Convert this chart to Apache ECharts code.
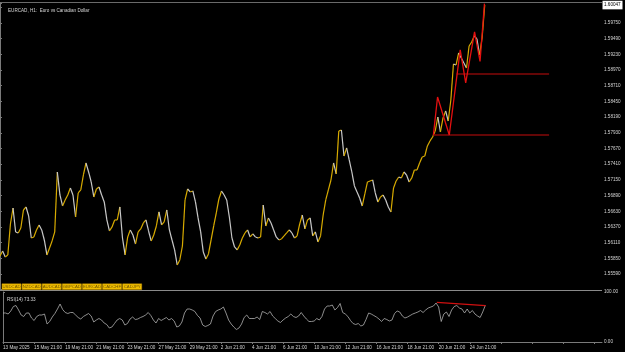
<!DOCTYPE html>
<html>
<head>
<meta charset="utf-8">
<script src="https://cdn.jsdelivr.net/npm/echarts@6/dist/echarts.min.js"></script>
<style>
html,body{margin:0;padding:0;background:#000;}
#c{width:625px;height:352px;}
</style>
</head>
<body>
<div id="c"></div>
<script>
// ---- data (H1 EURCAD, sampled every 4 bars) ----
const closes = [
1.55889,1.55972,1.55873,1.55906,1.56419,1.56684,1.56287,1.56270,1.56353,1.56651,
1.56701,1.56552,1.56187,1.56204,1.56320,1.56403,1.56320,1.56154,1.55906,1.56022,
1.56138,1.56287,1.57281,1.56900,1.56718,1.56817,1.56900,1.57016,1.56900,1.56535,
1.56933,1.56983,1.57231,1.57430,1.57281,1.57115,1.56867,1.56999,1.57032,1.56900,
1.56784,1.56486,1.56303,1.56370,1.56486,1.56486,1.56701,1.56187,1.55906,1.56204,
1.56320,1.56237,1.56088,1.56287,1.56337,1.56436,1.56486,1.56303,1.56138,1.56237,
1.56386,1.56618,1.56403,1.56453,1.56651,1.56320,1.56154,1.55989,1.55740,1.55823,
1.56055,1.56817,1.56999,1.56950,1.56966,1.56784,1.56519,1.56287,1.55955,1.55839,
1.55922,1.56154,1.56386,1.56602,1.56834,1.56966,1.56900,1.56817,1.56535,1.56187,
1.56038,1.55989,1.56071,1.56187,1.56270,1.56320,1.56204,1.56254,1.56204,1.56187,
1.56204,1.56734,1.56386,1.56519,1.56436,1.56320,1.56204,1.56154,1.56171,1.56221,
1.56270,1.56320,1.56270,1.56187,1.56221,1.56419,1.56568,1.56337,1.56486,1.56519,
1.56221,1.56287,1.56121,1.56221,1.56568,1.56817,1.56983,1.57148,1.57430,1.57248,
1.57960,1.57977,1.57546,1.57679,1.57480,1.57281,1.57049,1.56950,1.56850,1.56718,
1.56916,1.57115,1.57132,1.57148,1.56933,1.56784,1.56867,1.56900,1.56817,1.56701,
1.56618,1.57016,1.57132,1.57198,1.57182,1.57281,1.57231,1.57115,1.57182,1.57314,
1.57314,1.57430,1.57530,1.57546,1.57712,1.57795,1.57861,1.57960,1.58192,1.57944,
1.58176,1.58292,1.58126,1.58474,1.59071,1.59054,1.59253,1.59170,1.59087,1.59004,
1.59369,1.59435,1.59535,1.59485,1.59220,1.59501,1.60047
];
const rsi = [
58,58,56,62,71,73,64,54,51,58,
58,48,43,51,54,54,56,36,41,50,
57,66,76,65,59,57,59,59,54,49,
46,51,54,57,52,40,44,47,44,38,
35,28,30,37,44,47,44,34,37,46,
50,45,46,49,51,54,59,53,44,38,
47,43,46,49,44,47,42,30,32,40,
58,66,66,64,61,53,48,34,31,33,
36,52,61,64,66,70,58,44,36,30,
25,28,36,49,54,47,47,47,50,45,
61,59,56,61,52,47,42,39,44,48,
51,56,51,49,52,59,52,46,41,41,
42,47,44,51,66,72,72,74,64,69,
77,59,56,51,43,37,35,37,32,34,
45,58,56,53,50,46,41,47,45,42,
44,57,62,60,52,48,50,53,56,58,
60,63,59,64,68,70,72,78,70,41,
56,60,51,64,71,73,68,66,58,66,
58,63,56,52,49,60,73.33
];
const timeLabels = ['13 May 2025','15 May 21:00','19 May 21:00','21 May 21:00','23 May 21:00','27 May 21:00','29 May 21:00','2 Jun 21:00','4 Jun 21:00','6 Jun 21:00','10 Jun 21:00','12 Jun 21:00','16 Jun 21:00','18 Jun 21:00','20 Jun 21:00','24 Jun 21:00'];
const zigzagIdx = [166.3,167.9,172.4,176.6,178.7,182.1,184.2,185.9];
const zigzagPrice = [1.57894,1.58524,1.57894,1.59303,1.58756,1.59601,1.59112,1.60070];
const levelPrice = [1.58916,1.57894];
const levelFrom = [175.2,166.2];
const levelTo = [210.7,210.7];
const rsiTrendIdx = [167.3,186.1];
const rsiTrendVal = [79.4,72.6];
const symbols = ['USDCAD','NZDCAD','AUDCAD','GBPCAD','EURCAD','CADCHF','CADJPY'];
const titleText = 'EURCAD, H1:  Euro vs Canadian Dollar';
const rsiText = 'RSI(14) 73.33';

// ---- chart ----
const FONT = 'Liberation Sans';
const FS = 4.6;
const TXT = '#d4d4d4';
const UP = '#d8ab00';
const DN = '#c8c8c8';
const chart = echarts.init(document.getElementById('c'), null, {renderer:'canvas'});

const barData = closes.slice(1).map((c,k)=>[k+1, closes[k], c]);
const zz = zigzagIdx.map((x,k)=>[x, zigzagPrice[k]]);
const rsiData = rsi.map((v,i)=>[i,v]);

function hiddenX(gi, showLabels){
  return {
    type:'value', gridIndex:gi, min:0, max:231, interval:12,
    axisLine:{show:showLabels, lineStyle:{color:'#7a7a7a', width:1}},
    axisTick:{show:showLabels, length:2, lineStyle:{color:'#7a7a7a'}},
    splitLine:{show:false},
    axisLabel:{show:showLabels, fontFamily:FONT, fontSize:FS, color:TXT, align:'left', margin:3,
      showMinLabel:true, showMaxLabel:false,
      formatter:v=>timeLabels[Math.round(v/12)] || ''}
  };
}

const option = {
  backgroundColor:'#000',
  animation:false,
  title:[
    {text:titleText, left:3, top:3, textStyle:{fontFamily:FONT, fontSize:FS, color:TXT, fontWeight:'normal'}},
    {text:rsiText, left:2, top:292, textStyle:{fontFamily:FONT, fontSize:FS, color:TXT, fontWeight:'normal'}}
  ],
  grid:[
    {left:0, right:23, top:3, height:286.7},
    {left:0, right:23, top:292, height:50}
  ],
  xAxis:[hiddenX(0,false), hiddenX(1,true)],
  yAxis:[
    {type:'value', gridIndex:0, position:'right', min:1.55330, max:1.60081, interval:0.0026,
     axisLine:{show:true, lineStyle:{color:'#7a7a7a', width:1}},
     axisTick:{show:true, length:2, lineStyle:{color:'#7a7a7a'}},
     splitLine:{show:false},
     axisLabel:{fontFamily:FONT, fontSize:FS, color:TXT, margin:2,
       formatter:v=>(v>1.5990||v<1.5550)?'':v.toFixed(5)}},
    {type:'value', gridIndex:1, position:'right', min:0, max:100, interval:100,
     axisLine:{show:true, lineStyle:{color:'#7a7a7a', width:1}},
     axisTick:{show:true, length:2, lineStyle:{color:'#7a7a7a'}},
     splitLine:{show:false},
     axisLabel:{fontFamily:FONT, fontSize:FS, color:TXT, margin:2, formatter:v=>v.toFixed(2)}}
  ],
  series:[
    {type:'custom', xAxisIndex:0, yAxisIndex:0, clip:false, data:barData,
     encode:{x:0, y:[1,2]},
     renderItem:function(params, api){
       const i = api.value(0), o = api.value(1), c = api.value(2);
       const p0 = api.coord([i-1, o]), p1 = api.coord([i, c]);
       return {type:'line', shape:{x1:p0[0], y1:p0[1], x2:p1[0], y2:p1[1]},
               style:{stroke: c>=o?UP:DN, lineWidth:1.2}};
     }},
    {type:'line', xAxisIndex:0, yAxisIndex:0, data:zz, symbol:'none', clip:false,
     lineStyle:{color:'#e41010', width:1.3}, z:5,
     markLine:{silent:true, symbol:'none', label:{show:false},
       lineStyle:{color:'#850808', width:1.5, type:'solid'},
       data: levelPrice.map((p,k)=>[{coord:[levelFrom[k], p]},{coord:[levelTo[k], p]}])}},
    {type:'line', xAxisIndex:1, yAxisIndex:1, data:rsiData, symbol:'none',
     lineStyle:{color:'#b0b0b0', width:0.8}},
    {type:'line', xAxisIndex:1, yAxisIndex:1, data:rsiTrendIdx.map((x,k)=>[x, rsiTrendVal[k]]),
     symbol:'none', lineStyle:{color:'#d01010', width:1.3}, z:5}
  ]
};
chart.setOption(option);

// decorations: pane borders, symbol buttons, current price box
const gfx = [];
gfx.push({type:'line', shape:{x1:0, y1:2.5, x2:602, y2:2.5}, style:{stroke:'#6a6a6a', lineWidth:1}});
gfx.push({type:'line', shape:{x1:0, y1:290.5, x2:602, y2:290.5}, style:{stroke:'#8a8a8a', lineWidth:1}});
const bw = 20.1;
symbols.forEach((s,k)=>{
  gfx.push({type:'rect', shape:{x:2 + k*bw, y:283.8, width:bw-1, height:5.8},
    style:{fill:'#f0bd00', stroke:'#c09000', lineWidth:0.5}, z:10});
  gfx.push({type:'text', x:2 + k*bw + (bw-1)/2, y:283.8+3,
    style:{text:s, fill:'#6e5200', font:'4.3px "Liberation Sans"', align:'center', verticalAlign:'middle'}, z:11});
});
const last = closes[closes.length-1];
const py = chart.convertToPixel({yAxisIndex:0}, last);
gfx.push({type:'rect', shape:{x:602.5, y:py-4.3, width:20, height:8.6}, style:{fill:'#ffffff'}, z:20});
gfx.push({type:'text', x:604, y:py, style:{text:last.toFixed(5), fill:'#000', font:FS+'px "Liberation Sans"', verticalAlign:'middle'}, z:21});
chart.setOption({graphic:gfx});
</script>
</body>
</html>
